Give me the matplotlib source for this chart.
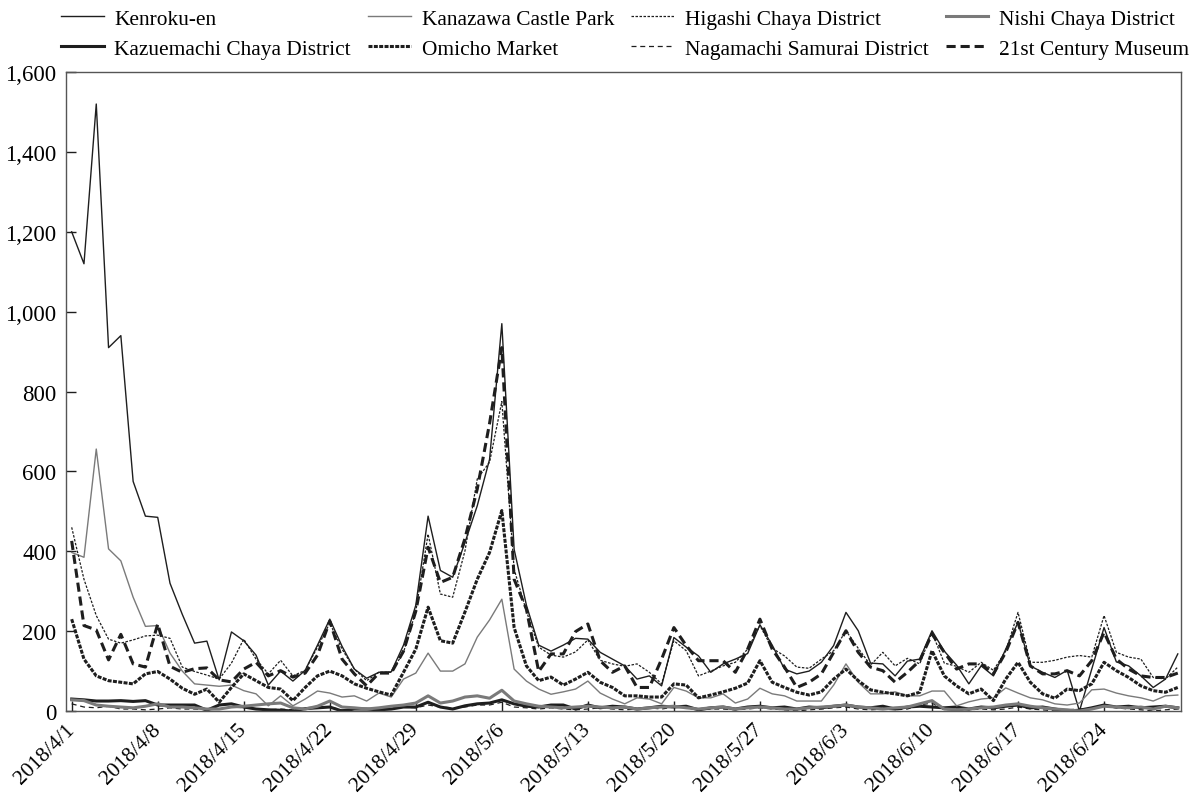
import matplotlib
matplotlib.use("Agg")
import matplotlib.pyplot as plt
import matplotlib.ticker as mticker
import pandas as pd
import numpy as np

plt.rcParams['font.family'] = ['Liberation Serif', 'DejaVu Serif']
plt.rcParams['font.size'] = 15

# Daily visitor counts, 2018/4/1 - 2018/6/30
dates = pd.date_range('2018-04-01', '2018-06-30', freq='D')

kenroku = [1200, 1120, 1520, 910, 940, 575, 488, 485, 320, 242,
           170, 175, 78, 198, 176, 140, 65, 100, 75, 102,
           165, 230, 162, 105, 82, 97, 98, 165, 265, 488,
           352, 335, 422, 514, 630, 970, 405, 265, 165, 150,
           165, 182, 180, 147, 130, 113, 80, 88, 63, 184,
           160, 138, 97, 118, 130, 144, 216, 165, 105, 93,
           100, 122, 164, 247, 201, 120, 118, 88, 125, 130,
           201, 150, 115, 68, 113, 88, 155, 222, 113, 97,
           84, 102, 0, 105, 209, 123, 113, 88, 59, 80, 143]

kanazawa = [397, 385, 656, 406, 376, 285, 212, 214, 145, 100,
            68, 65, 62, 65, 51, 43, 13, 38, 13, 30,
            50, 45, 35, 38, 25, 45, 35, 80, 95, 145,
            100, 100, 118, 185, 228, 280, 105, 75, 55, 42,
            48, 55, 75, 45, 30, 18, 33, 30, 18, 59,
            50, 33, 33, 43, 20, 30, 57, 43, 38, 25,
            25, 25, 65, 118, 72, 43, 43, 48, 38, 38,
            50, 50, 13, 23, 30, 33, 58, 45, 33, 28,
            18, 15, 20, 53, 55, 45, 38, 33, 25, 38, 40]

higashi = [460, 330, 239, 180, 170, 178, 188, 190, 182, 110,
           99, 90, 80, 120, 180, 130, 93, 127, 88, 102,
           160, 220, 155, 105, 76, 97, 97, 147, 250, 443,
           293, 285, 401, 581, 623, 775, 355, 250, 160, 140,
           135, 148, 178, 127, 118, 112, 118, 97, 68, 176,
           151, 88, 100, 113, 122, 155, 214, 157, 138, 110,
           107, 130, 151, 201, 157, 115, 147, 113, 132, 118,
           197, 120, 112, 97, 122, 102, 150, 247, 122, 122,
           127, 135, 139, 135, 239, 147, 135, 130, 84, 80, 110]

nishi = [28, 26, 15, 12, 10, 8, 12, 18, 10, 10,
         8, 5, 5, 10, 12, 15, 18, 20, 8, 5,
         12, 25, 10, 8, 5, 8, 12, 15, 20, 38,
         20, 25, 35, 38, 32, 52, 25, 18, 12, 10,
         8, 10, 12, 10, 8, 10, 5, 8, 10, 12,
         8, 5, 8, 10, 5, 8, 10, 8, 5, 5,
         8, 10, 12, 15, 10, 8, 5, 8, 10, 18,
         26, 5, 3, 5, 8, 10, 15, 18, 12, 8,
         5, 3, 0, 5, 12, 10, 8, 10, 5, 12, 8]

kazuemachi = [30, 28, 25, 25, 26, 24, 26, 15, 15, 15,
              15, 2, 15, 18, 10, 5, 3, 2, 0, 6,
              8, 10, 0, 5, 5, 3, 5, 10, 10, 22,
              10, 5, 13, 18, 20, 28, 18, 12, 10, 15,
              15, 5, 15, 8, 12, 10, 5, 8, 12, 10,
              12, 3, 8, 10, 5, 10, 12, 8, 10, 5,
              10, 8, 12, 15, 10, 8, 12, 5, 10, 12,
              10, 8, 10, 5, 10, 8, 12, 15, 8, 10,
              5, 0, 2, 8, 15, 10, 12, 8, 10, 12, 8]

omicho = [230, 130, 88, 76, 72, 68, 93, 99, 80, 57,
          42, 55, 22, 59, 93, 76, 59, 55, 26, 59,
          88, 100, 88, 68, 57, 48, 40, 97, 155, 260,
          176, 170, 248, 330, 397, 502, 209, 113, 76, 85,
          65, 80, 97, 72, 59, 38, 38, 35, 35, 68,
          65, 33, 40, 48, 57, 70, 126, 72, 59, 47,
          40, 48, 80, 105, 76, 53, 47, 43, 38, 47,
          151, 88, 63, 43, 55, 26, 80, 122, 72, 43,
          32, 55, 51, 68, 122, 101, 84, 63, 51, 47, 59]

nagamachi = [18, 10, 8, 12, 5, 5, 3, 5, 8, 5,
             5, 3, 5, 10, 8, 5, 3, 5, 3, 5,
             8, 10, 3, 5, 5, 3, 8, 10, 8, 15,
             10, 8, 10, 15, 15, 22, 10, 8, 5, 8,
             5, 3, 5, 8, 5, 3, 5, 8, 5, 10,
             8, 3, 5, 5, 3, 5, 8, 5, 3, 0,
             3, 5, 8, 10, 5, 3, 5, 3, 5, 15,
             20, 3, 5, 3, 5, 3, 5, 10, 5, 3,
             0, 3, 5, 5, 12, 8, 5, 3, 0, 3, 5]

museum = [426, 214, 203, 128, 192, 118, 110, 218, 112, 97,
          106, 108, 78, 73, 105, 122, 88, 101, 85, 95,
          140, 225, 130, 93, 63, 95, 95, 150, 250, 410,
          322, 335, 432, 556, 720, 910, 330, 255, 99, 143,
          143, 199, 218, 126, 97, 113, 59, 59, 130, 209,
          164, 126, 126, 126, 97, 155, 230, 155, 110, 59,
          72, 93, 147, 201, 147, 110, 101, 72, 97, 126,
          193, 147, 105, 118, 118, 93, 147, 222, 113, 93,
          93, 101, 88, 126, 197, 130, 105, 88, 84, 84, 95]

tick_dates = dates[::7]
tick_labels = [f"{d.year}/{d.month}/{d.day}" for d in tick_dates]

dark = '#1e1e1e'
gray = '#7a7a7a'

fig = plt.figure(figsize=(11.94, 8.03), dpi=100)
ax = fig.add_axes([0.0553, 0.1133, 0.9338, 0.7957])

# legend is filled column-wise, so plot in column order
l1, = ax.plot(dates, kenroku, color=dark, lw=1.0, label='Kenroku-en')
l5, = ax.plot(dates, kazuemachi, color=dark, lw=2.2, label='Kazuemachi Chaya District')
l2, = ax.plot(dates, kanazawa, color=gray, lw=1.0, label='Kanazawa Castle Park')
l6, = ax.plot(dates, omicho, color=dark, lw=2.2, ls=(0, (1.3, 0.45)), label='Omicho Market')
l3, = ax.plot(dates, higashi, color=dark, lw=0.9, ls=(0, (2, 1.2)), label='Higashi Chaya District')
l7, = ax.plot(dates, nagamachi, color=dark, lw=0.9, ls=(0, (4, 3)), label='Nagamachi Samurai District')
l4, = ax.plot(dates, nishi, color=gray, lw=2.2, label='Nishi Chaya District')
l8, = ax.plot(dates, museum, color=dark, lw=2.2, ls=(0, (3, 1.6)), label='21st Century Museum')

start = dates[0]
ax.set_xlim(start - pd.Timedelta(days=0.46), start + pd.Timedelta(days=90.26))
ax.set_ylim(0, 1600)
ax.set_yticks(np.arange(0, 1601, 200))
ax.yaxis.set_major_formatter(mticker.FuncFormatter(lambda v, p: f"{int(v):,}"))
ax.set_xticks(tick_dates)
ax.set_xticklabels(tick_labels, rotation=45, ha='right', va='center',
                   rotation_mode='anchor')
ax.tick_params(axis='both', direction='in', length=7, width=1, labelsize=16.5, color=dark)
ax.tick_params(axis='y', pad=7)
ax.tick_params(axis='x', pad=11, labelsize=15.5)

for s in ax.spines.values():
    s.set_color('#555555')
    s.set_linewidth(1.0)

fig.legend(handles=[l1, l5, l2, l6, l3, l7, l4, l8], loc='upper left',
           bbox_to_anchor=(61 / 1194, 1 - 10 / 803), ncol=4, frameon=False,
           fontsize=15.4, handlelength=2.0, columnspacing=0.8,
           handletextpad=0.5, labelspacing=0.45, borderpad=0, borderaxespad=0)

fig.savefig('out.png', dpi=100)
